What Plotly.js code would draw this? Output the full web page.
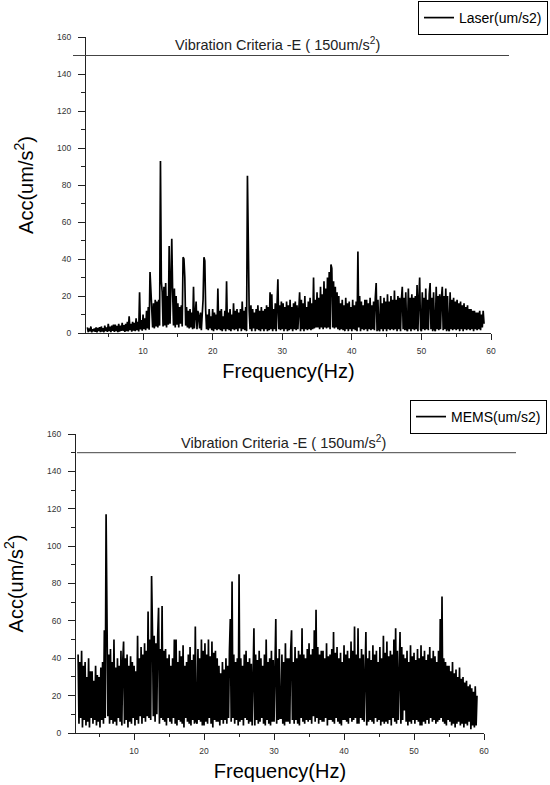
<!DOCTYPE html>
<html>
<head>
<meta charset="utf-8">
<script src="https://cdn.plot.ly/plotly-3.0.1.min.js"></script>
<style>html,body{margin:0;padding:0;background:#fff}#chart{width:550px;height:785px}</style>
</head>
<body>
<div id="chart"></div>
<script>
const freqStart = 2.0;
const freqStep = 0.125;

const laser = [
  3, 0.5, 2.5, 1, 3.5, 0.4, 2, 1,            // 2 Hz
  2.5, 0.6, 3, 0.3, 2.8, 1, 3.2, 0.5,        // 3
  3.5, 0.8, 2.6, 0.4, 4, 1, 3, 0.6,          // 4
  5, 1, 3.5, 0.5, 4, 1.2, 4.5, 0.6,          // 5
  4.5, 1, 3.8, 0.5, 5, 0.8, 4, 1.1,          // 6
  5.5, 1.2, 4.2, 0.6, 5, 1, 6, 0.8,          // 7
  9, 1.5, 5, 0.7, 6, 1.2, 5.5, 1,            // 8
  8, 1.5, 6, 0.8, 22, 2, 7, 1.2,             // 9
  10, 2, 8, 1.5, 12, 2.5, 14, 1.8,           // 10
  33, 24, 12, 3, 16, 2.5, 18, 3.5,           // 11
  17, 3, 18, 4, 93, 28, 22, 3.5,             // 12
  25, 4, 27, 3, 20, 4.5, 47, 5,              // 13
  26, 51, 22, 4, 24, 3, 20, 4.5,             // 14
  16, 3, 14, 5, 15, 3.5, 41, 40,             // 15
  30, 4, 14, 3, 12, 2.5, 13, 3,              // 16
  11, 2, 25, 2.5, 10, 17, 2, 12,             // 17
  9, 2.5, 11, 1.5, 10, 18, 41, 39,           // 18
  12, 2, 10, 1.5, 13, 2.5, 9, 1.5,           // 19
  13, 1, 11, 2, 10, 1.5, 24, 2,              // 20
  12, 1.5, 13, 1, 9, 2, 12, 1,               // 21
  28, 2, 11, 1.5, 13, 1, 10, 2,              // 22
  16, 1.5, 12, 2, 13, 1, 11, 2.5,            // 23
  13, 1, 17, 2, 12, 1.5, 14, 1,              // 24
  85, 24, 12, 2, 15, 1, 13, 2.5,             // 25
  11, 1, 13, 2, 15, 1.5, 12, 1,              // 26
  14, 2, 12, 1, 13, 2, 15, 1,                // 27
  14, 1.5, 22, 2, 21, 1, 13, 2,              // 28
  16, 1, 14, 29, 2, 15, 1.5, 17,             // 29
  2, 16, 1, 14, 2, 17, 1, 15,                // 30
  1.5, 18, 2, 14, 1, 16, 2, 17,              // 31
  1.5, 15, 2, 17, 22, 1, 18, 2,              // 32
  16, 1, 20, 2, 14, 1.5, 17, 2,              // 33
  19, 1.5, 16, 2, 30, 2.5, 18, 3,            // 34
  22, 3, 19, 2, 25, 3, 21, 2,                // 35
  28, 3, 24, 2.5, 30, 3, 33, 2,              // 36
  37, 35, 3, 28, 2.5, 25, 3, 22,             // 37
  2, 20, 1.5, 16, 2, 18, 1.5, 15,            // 38
  1, 19, 2, 16, 1, 17, 2, 14,                // 39
  1, 18, 2, 15, 1.5, 17, 1, 44,              // 40
  3, 20, 1, 17, 2, 15, 1.5, 18,              // 41
  2, 18, 1, 16, 2, 19, 1.5, 15,              // 42
  2, 17, 1.5, 19, 27, 1, 18, 2,              // 43
  1, 20, 2, 16, 1, 19, 2, 17,                // 44
  1, 21, 2, 17, 1.5, 20, 2, 18,              // 45
  1.5, 23, 2, 18, 1, 20, 2, 19,              // 46
  1, 18, 25, 2, 19, 1.5, 22, 2,              // 47
  1, 24, 2, 19, 1, 21, 2, 19,                // 48
  1.5, 20, 2, 26, 1, 18, 30, 2,              // 49
  1, 22, 2, 19, 1.5, 24, 2, 18,              // 50
  1.5, 21, 27, 2, 19, 1, 22, 2,              // 51
  1, 25, 2, 20, 1.5, 21, 2, 19,              // 52
  25, 1.5, 20, 2, 24, 1, 20, 2,              // 53
  1, 22, 2, 18, 1.5, 19, 2, 17,              // 54
  1.5, 18, 2, 16, 1, 17, 2, 15,              // 55
  1, 16, 2, 14, 1.5, 15, 2, 13,              // 56
  1.5, 13, 2, 12, 1, 12, 2, 11,              // 57
  1.5, 11, 2, 12, 1.5, 10, 3, 12,            // 58
  5                                          // 59
];

const mems = [
  42, 5, 38, 8, 44, 3, 36, 7,                // 2 Hz
  38, 4, 30, 6, 40, 3, 33, 8,                // 3
  33, 5, 28, 7, 36, 4, 31, 6,                // 4
  30, 3, 35, 7, 38, 5, 55, 8,                // 5
  117, 63, 9, 42, 5, 45, 7, 38,              // 6
  5, 50, 6, 35, 4, 40, 8, 36,                // 7
  6, 44, 4, 38, 49, 5, 40, 7,                // 8
  42, 3, 36, 6, 41, 5, 38, 8,                // 9
  36, 4, 33, 7, 52, 5, 40, 9,                // 10
  46, 5, 42, 8, 48, 6, 44, 9,                // 11
  65, 8, 50, 7, 84, 55, 9, 52,               // 12
  6, 48, 10, 52, 67, 5, 45, 8,               // 13
  68, 7, 44, 6, 45, 4, 40, 8,                // 14
  42, 6, 36, 5, 40, 8, 50, 5,                // 15
  50, 4, 38, 7, 44, 6, 41, 5,                // 16
  47, 3, 36, 8, 38, 6, 42, 5,                // 17
  46, 4, 39, 7, 42, 5, 57, 6,                // 18
  5, 45, 7, 40, 6, 50, 4, 44,                // 19
  4, 48, 6, 42, 5, 50, 8, 41,                // 20
  5, 49, 3, 43, 7, 44, 6, 40,                // 21
  6, 36, 4, 32, 7, 38, 5, 34,                // 22
  7, 40, 5, 36, 8, 44, 61, 6,                // 23
  81, 8, 42, 5, 38, 7, 40, 4,                // 24
  85, 6, 40, 7, 36, 4, 42, 8,                // 25
  44, 7, 38, 5, 40, 6, 37, 4,                // 26
  46, 56, 4, 42, 7, 39, 5, 44,               // 27
  6, 40, 8, 36, 5, 42, 4, 50,                // 28
  7, 38, 5, 40, 4, 44, 6, 39,                // 29
  6, 45, 61, 5, 40, 7, 45, 8,                // 30
  8, 42, 5, 38, 4, 48, 6, 40,                // 31
  6, 40, 5, 44, 55, 7, 38, 5,                // 32
  46, 7, 40, 5, 44, 4, 42, 8,                // 33
  56, 6, 42, 5, 40, 7, 45, 6,                // 34
  48, 7, 42, 5, 45, 9, 55, 6,                // 35
  66, 8, 46, 5, 42, 7, 44, 6,                // 36
  44, 6, 40, 8, 48, 4, 41, 7,                // 37
  42, 7, 45, 6, 54, 5, 43, 8,                // 38
  46, 6, 40, 5, 43, 4, 38, 7,                // 39
  47, 7, 42, 6, 44, 5, 40, 8,                // 40
  49, 6, 44, 7, 57, 8, 42, 5,                // 41
  56, 5, 40, 8, 45, 7, 42, 6,                // 42
  48, 54, 4, 40, 6, 44, 7, 39,               // 43
  6, 47, 5, 42, 8, 44, 6, 38,                // 44
  7, 46, 4, 40, 6, 52, 5, 43,                // 45
  6, 49, 5, 41, 7, 44, 4, 42,                // 46
  8, 50, 6, 56, 5, 44, 7, 40,                // 47
  54, 5, 46, 7, 42, 12, 40, 6,               // 48
  44, 4, 38, 6, 47, 5, 41, 7,                // 49
  43, 5, 39, 7, 45, 6, 40, 4,                // 50
  47, 4, 41, 6, 44, 5, 39, 7,                // 51
  42, 5, 46, 8, 40, 6, 44, 7,                // 52
  41, 5, 38, 6, 44, 7, 61, 8,                // 53
  73, 6, 40, 5, 38, 4, 36, 7,                // 54
  36, 6, 33, 4, 38, 5, 32, 3,                // 55
  34, 5, 30, 6, 35, 4, 29, 5,                // 56
  30, 3, 27, 5, 28, 4, 25, 6,                // 57
  26, 2, 24, 4, 22, 3, 25, 4,                // 58
  20                                         // 59
];

const laserName = 'Laser(um/s2)';
const memsName = 'MEMS(um/s2)';
const criteria = 150;
const criteriaLabel = 'Vibration Criteria -E ( 150um/s<sup>2</sup>)';
const xTitle = 'Frequency(Hz)';
const yTitle = 'Acc(um/s<sup>2</sup>)';
const xTicks = [10, 20, 30, 40, 50, 60];
const xMinorTicks = [5, 15, 25, 35, 45, 55];

const freqs = arr => arr.map((_, i) => freqStart + i * freqStep);

const FONT = 'Arial, "Liberation Sans", sans-serif';
const tickFont = {family: FONT, size: 8.5, color: '#333'};

const traces = [
  {x: freqs(laser), y: laser, type: 'scatter', mode: 'lines', name: laserName,
   line: {color: '#000', width: 1.7}, xaxis: 'x', yaxis: 'y', legend: 'legend'},
  {x: freqs(mems), y: mems, type: 'scatter', mode: 'lines', name: memsName,
   line: {color: '#000', width: 1.7}, xaxis: 'x2', yaxis: 'y2', legend: 'legend2'}
];

function xax(domain, range, anchor) {
  return {domain: domain, range: range, anchor: anchor,
    showline: true, linecolor: '#222', linewidth: 1, showgrid: false, zeroline: false,
    ticks: 'outside', ticklen: 6, tickcolor: '#222', tickwidth: 1,
    tickvals: xTicks, ticklabelstandoff: 4,
    minor: {ticks: 'outside', tickvals: xMinorTicks, ticklen: 3, tickcolor: '#222', showgrid: false},
    tickfont: tickFont,
    title: {text: xTitle, font: {family: FONT, size: 20, color: '#000'}, standoff: 8}};
}
function yax(domain, anchor) {
  return {domain: domain, range: [0, 160], anchor: anchor,
    showline: true, linecolor: '#222', linewidth: 1, showgrid: false, zeroline: false,
    ticks: 'outside', ticklen: 7, tickcolor: '#222', tickwidth: 1,
    dtick: 20, tick0: 0, ticklabelstandoff: 5,
    minor: {ticks: 'outside', dtick: 10, ticklen: 4, tickcolor: '#222', showgrid: false},
    tickfont: tickFont,
    title: {text: yTitle, font: {family: FONT, size: 20, color: '#000'}, standoff: 18}};
}

const legendStyle = {bordercolor: '#000', borderwidth: 1, bgcolor: '#fff',
  font: {family: FONT, size: 14, color: '#000'}, itemwidth: 30, tracegroupgap: 0,
  xanchor: 'right', yanchor: 'top'};

const layout = {
  width: 550, height: 785,
  margin: {l: 0, r: 0, t: 0, b: 0},
  paper_bgcolor: '#fff', plot_bgcolor: '#fff',
  font: {family: FONT, color: '#000'},
  xaxis: xax([86/550, 491/550], [1.8, 60], 'y'),
  yaxis: yax([1 - 333/785, 1 - 37/785], 'x'),
  xaxis2: xax([76/550, 484/550], [1.7, 60], 'y2'),
  yaxis2: yax([1 - 733/785, 1 - 434/785], 'x2'),
  showlegend: true,
  legend: Object.assign({x: 548/550, y: 1 - 1/785}, legendStyle),
  legend2: Object.assign({x: 547/550, y: 1 - 400/785}, legendStyle),
  shapes: [
    {type: 'line', xref: 'paper', yref: 'y', x0: 73/550, x1: 509/550, y0: criteria, y1: criteria,
     line: {color: '#444', width: 1}},
    {type: 'line', xref: 'paper', yref: 'y2', x0: 77/550, x1: 516/550, y0: criteria, y1: criteria,
     line: {color: '#444', width: 1}}
  ],
  annotations: [
    {xref: 'paper', yref: 'y', x: 277/550, y: criteria, yanchor: 'bottom', xanchor: 'center',
     text: criteriaLabel, showarrow: false, font: {family: FONT, size: 14.5, color: '#222'}, yshift: 0},
    {xref: 'paper', yref: 'y2', x: 283/550, y: criteria, yanchor: 'bottom', xanchor: 'center',
     text: criteriaLabel, showarrow: false, font: {family: FONT, size: 14.5, color: '#222'}, yshift: 0}
  ]
};

Plotly.newPlot('chart', traces, layout, {staticPlot: true, displayModeBar: false});
</script>
</body>
</html>
